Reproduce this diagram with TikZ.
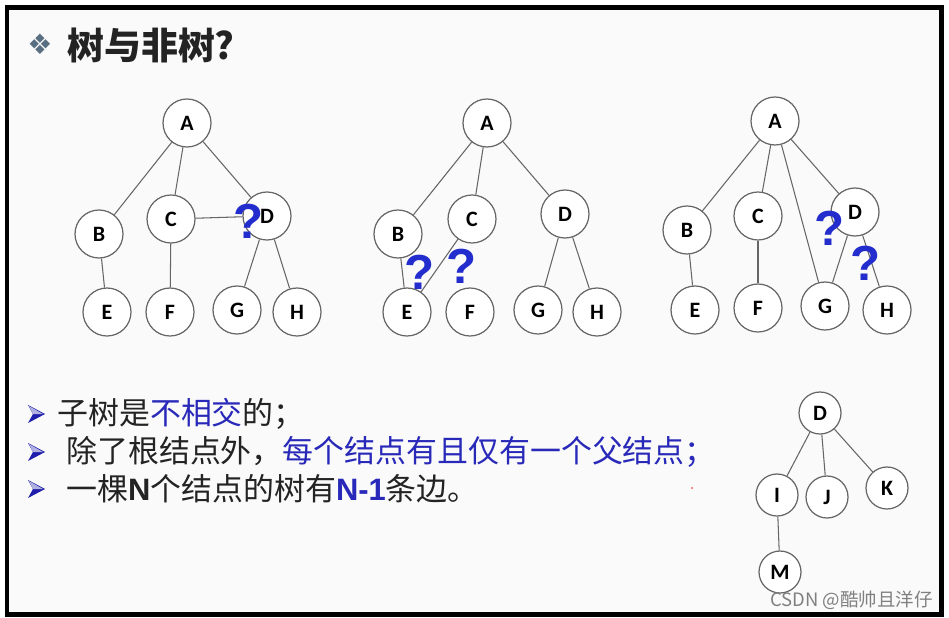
\documentclass[tikz,border=0pt]{standalone}
\usepackage{fontspec}
\setmainfont{Carlito}
\newfontfamily\cjk{Noto Sans CJK SC}
\newfontfamily\arial{Liberation Sans}
\newfontfamily\symfont{DejaVu Sans}
\definecolor{txtblue}{RGB}{40,40,185}
\definecolor{qblue}{RGB}{35,45,205}
\definecolor{txtgray}{RGB}{35,35,35}
\definecolor{bulletblue}{RGB}{30,30,170}
\definecolor{titlemark}{RGB}{90,110,130}

\begin{document}
\begin{tikzpicture}[x=0.02cm, y=-0.02cm,
roundnode/.style={circle, draw=black!60, fill=white, line width=0.7pt, minimum size=0.96cm, inner sep=0pt, font=\bfseries\fontsize{12.5}{12.5}\selectfont},
smallnode/.style={roundnode, minimum size=0.84cm},
link/.style={draw=black!60, line width=0.6pt},
qmark/.style={text=qblue, inner sep=0pt, font=\arial\bfseries\fontsize{28}{28}\selectfont},
textline/.style={anchor=west, inner sep=0pt, text=txtgray, font=\cjk\fontsize{17.6}{17.6}\selectfont}
]
    % frame
    \useasboundingbox (0,0) rectangle (949,618);
    \fill[white] (0,0) rectangle (949,618);
    \draw[line width=0.1cm, fill=gray!4] (7,8) rectangle (941,614);

    % title
    \node[text=titlemark, inner sep=0pt, font=\symfont\fontsize{16}{16}\selectfont] (tmark) at (40,44) {❖};
    \node[anchor=west, inner sep=0pt, text=txtgray, font=\cjk\bfseries\fontsize{21}{21}\selectfont] (title) at (67,45) {树与非树?};

    % tree 1
    \node [roundnode] (a1) at (187,123) {A};
    
    \node [roundnode] (b1) at (99,234) {B};
    \node [roundnode] (c1) at (171,219) {C};
    \node [roundnode] (d1) at (267,216) {D};
    
    \node [roundnode] (e1) at (107,312) {E};
    \node [roundnode] (f1) at (170,312) {F};
    \node [roundnode] (g1) at (237,310) {G};
    \node [roundnode] (h1) at (297,312) {H};
    
    \draw[link] (a1) edge (b1);
    \draw[link] (a1) edge (c1);
    \draw[link] (a1) edge (d1);
    \draw[link] (b1) edge (e1);
    \draw[link] (c1) edge (f1);
    \draw[link] (c1) edge (d1);
    \draw[link] (d1) edge (g1);
    \draw[link] (d1) edge (h1);

    % tree 2
    \node [roundnode] (a2) at (487,123) {A};
    
    \node [roundnode] (b2) at (398,234) {B};
    \node [roundnode] (c2) at (472,219) {C};
    \node [roundnode] (d2) at (565,214) {D};
    
    \node [roundnode] (e2) at (407,312) {E};
    \node [roundnode] (f2) at (470,312) {F};
    \node [roundnode] (g2) at (538,310) {G};
    \node [roundnode] (h2) at (597,312) {H};
    
    \draw[link] (a2) edge (b2);
    \draw[link] (a2) edge (c2);
    \draw[link] (a2) edge (d2);
    \draw[link] (b2) edge (e2);
    \draw[link] (c2) edge (e2);
    \draw[link] (d2) edge (g2);
    \draw[link] (d2) edge (h2);

    % tree 3
    \node [roundnode] (a3) at (775,121) {A};
    
    \node [roundnode] (b3) at (687,230) {B};
    \node [roundnode] (c3) at (758,216) {C};
    \node [roundnode] (d3) at (855,212) {D};
    
    \node [roundnode] (e3) at (695,310) {E};
    \node [roundnode] (f3) at (758,308) {F};
    \node [roundnode] (g3) at (825,306) {G};
    \node [roundnode] (h3) at (887,310) {H};
    
    \draw[link] (a3) edge (b3);
    \draw[link] (a3) edge (c3);
    \draw[link] (a3) edge (g3);
    \draw[link] (a3) edge (d3);
    \draw[link] (b3) edge (e3);
    \draw[link] (c3) edge (f3);
    \draw[link] (d3) edge (g3);
    \draw[link] (d3) edge (h3);

    % question marks
    \node [qmark] (q1) at (249,221) {?};
    \node [qmark] (q2) at (420,272) {?};
    \node [qmark] (q3) at (462,266) {?};
    \node [qmark] (q4) at (830,228) {?};
    \node [qmark] (q5) at (866,263) {?};

    % bullet lines
    \fill[bulletblue] (28,405) -- (45,414) -- (28,423) -- (33,414) -- cycle;
    \fill[bulletblue!35] (29,406) -- (43,414) -- (33,414) -- cycle;
    \fill[bulletblue] (28,443) -- (45,452) -- (28,461) -- (33,452) -- cycle;
    \fill[bulletblue!35] (29,444) -- (43,452) -- (33,452) -- cycle;
    \fill[bulletblue] (28,480) -- (45,489) -- (28,498) -- (33,489) -- cycle;
    \fill[bulletblue!35] (29,481) -- (43,489) -- (33,489) -- cycle;

    \node [textline] (l1) at (57,414) {子树是\textcolor{txtblue}{不相交}的；};
    \node [textline] (l2) at (66,452) {除了根结点外，\textcolor{txtblue}{每个结点有且仅有一个父结点；}};
    \node [textline] (l3) at (66,489) {一棵{\arial\bfseries N}个结点的树有\textcolor{txtblue}{\arial\bfseries N-1}条边。};
    \fill[red!70] (692,488) circle (0.02cm);

    % tree 4
    \node [smallnode] (d4) at (820,413) {D};
    
    \node [smallnode] (i4) at (777,495) {I};
    \node [smallnode] (j4) at (827,497) {J};
    \node [smallnode] (k4) at (887,488) {K};
    
    \node [smallnode] (m4) at (780,572) {M};
    
    \draw[link] (d4) edge (i4);
    \draw[link] (d4) edge (j4);
    \draw[link] (d4) edge (k4);
    \draw[link] (i4) edge (m4);

    % watermark
    \node [anchor=east, inner sep=0pt, text=black!50, font=\cjk\fontsize{10.5}{10.5}\selectfont] (mark) at (933,600) {CSDN @酷帅且洋仔};
\end{tikzpicture}
\end{document}
